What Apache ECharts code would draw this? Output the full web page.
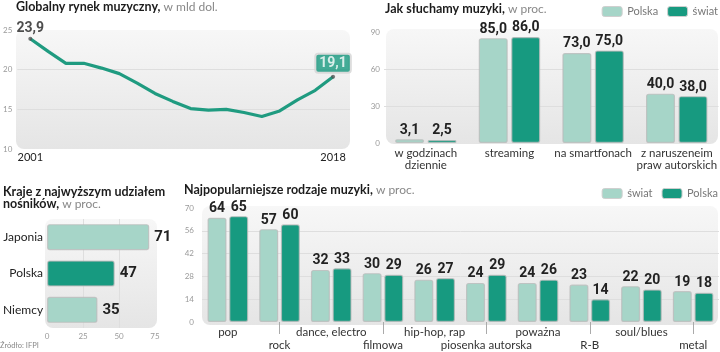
<!DOCTYPE html>
<html>
<head>
<meta charset="utf-8">
<script src="https://cdn.jsdelivr.net/npm/echarts@6/dist/echarts.min.js"></script>
<style>
  html, body { margin: 0; padding: 0; background: #fff; }
  #chart { width: 720px; height: 352px; }
</style>
</head>
<body>
<div id="chart"></div>
<script>
// --- data ---
const years = [2001, 2002, 2003, 2004, 2005, 2006, 2007, 2008, 2009, 2010, 2011, 2012, 2013, 2014, 2015, 2016, 2017, 2018];
const marketValues = [23.9, 22.3, 20.8, 20.8, 20.2, 19.5, 18.3, 17.0, 16.0, 15.1, 14.9, 15.0, 14.6, 14.1, 14.8, 16.2, 17.4, 19.1];
const yearTicks = [2001, 2018];

const listenCategories = ['w godzinach\ndziennie', 'streaming', 'na smartfonach', 'z naruszeneim\npraw autorskich'];
const listenPolska = [3.1, 85.0, 73.0, 40.0];
const listenSwiat = [2.5, 86.0, 75.0, 38.0];

const mediaCountries = ['Japonia', 'Polska', 'Niemcy'];
const mediaShare = [71, 47, 35];

const genres = ['pop', 'rock', 'dance, electro', 'filmowa', 'hip-hop, rap', 'piosenka autorska', 'poważna', 'R-B', 'soul/blues', 'metal'];
const genresSwiat = [64, 57, 32, 30, 26, 24, 24, 23, 22, 19];
const genresPolska = [65, 60, 33, 29, 27, 29, 26, 14, 20, 18];

// --- styles ---
const LIGHT = '#a6d5c8';
const DARK = '#179a80';
const FONT = 'Lato, "Noto Sans", sans-serif';
const NUMFONT = 'Roboto, "Liberation Sans", sans-serif';

const bgFill = {
  type: 'linear', x: 0, y: 0, x2: 0, y2: 1,
  colorStops: [{ offset: 0, color: '#f7f7f7' }, { offset: 1, color: '#e5e5e5' }]
};
function panelBg(x, y, w, h) {
  return { type: 'rect', z: -100, silent: true, shape: { x: x, y: y, width: w, height: h, r: 8 }, style: { fill: bgFill } };
}

const comma1 = v => v.toFixed(1).replace('.', ',');
const grayTick = { color: '#9a9a9a', fontSize: 8, fontFamily: FONT };
const split = { show: true, showMinLine: false, showMaxLine: false, lineStyle: { color: '#dedede', width: 1 } };
const barItem = c => ({ color: c, borderColor: 'rgba(185,185,185,0.75)', borderWidth: 1.2, borderRadius: 2 });
const barLabel = (fmt) => ({
  show: true, position: 'top', distance: 2, formatter: fmt,
  color: '#222', fontFamily: NUMFONT, fontWeight: 'bold', fontSize: 14
});
const titleRich = {
  b: { fontFamily: FONT, fontWeight: 'bold', fontSize: 12.5, color: '#1c1c1c', lineHeight: 12 },
  l: { fontFamily: FONT, fontWeight: 'normal', fontSize: 12, color: '#888', lineHeight: 12 }
};
function legendCfg(top, names, colors) {
  return {
    right: 2, top: top, padding: 0, icon: 'roundRect', itemWidth: 20, itemHeight: 10, itemGap: 9,
    selectedMode: false,
    data: names.map((n, i) => ({ name: n, itemStyle: { color: colors[i], borderColor: '#cfcfcf', borderWidth: 1 } })),
    textStyle: { color: '#777', fontSize: 11, fontFamily: FONT }
  };
}

const chart = echarts.init(document.getElementById('chart'), null, { renderer: 'canvas' });

chart.setOption({
  animation: false,
  backgroundColor: '#fff',
  graphic: [
    panelBg(16, 30, 334, 119),
    panelBg(386, 29, 332, 115),
    panelBg(45, 219, 112, 109),
    panelBg(202, 206, 516, 119)
  ],
  title: [
    { left: 16, top: 1, padding: 0, text: '{b|Globalny rynek muzyczny,}{l| w mld dol.}', textStyle: { rich: titleRich } },
    { left: 385, top: 3, padding: 0, text: '{b|Jak słuchamy muzyki,}{l| w proc.}', textStyle: { rich: titleRich } },
    { left: 3, top: 186, padding: 0, text: '{b|Kraje z najwyższym udziałem}\n{b|nośników,}{l| w proc.}', textStyle: { rich: titleRich } },
    { left: 184, top: 184, padding: 0, text: '{b|Najpopularniejsze rodzaje muzyki,}{l| w proc.}', textStyle: { rich: titleRich } },
    { left: 0, bottom: 2, padding: 0, text: 'Źródło: IFPI', textStyle: { fontSize: 7.5, color: '#888', fontWeight: 'normal', fontFamily: FONT } }
  ],
  legend: [
    legendCfg(6, ['Polska', 'świat'], [LIGHT, DARK]),
    legendCfg(188, ['świat', 'Polska'], [LIGHT, DARK])
  ],
  grid: [
    { left: 16, right: 370, top: 30, bottom: 203 },
    { left: 384, right: 1, top: 32, bottom: 209 },
    { left: 47, right: 565, top: 219, bottom: 24 },
    { left: 202, right: 1, top: 208, bottom: 28 }
  ],
  xAxis: [
    {
      gridIndex: 0, type: 'value', min: 2000.27, max: 2018.95,
      axisLine: { show: false }, axisTick: { show: false }, splitLine: { show: false },
      axisLabel: { customValues: yearTicks, margin: 3, fontSize: 11, color: '#222', fontFamily: FONT, formatter: v => String(v) }
    },
    {
      gridIndex: 1, type: 'category', data: listenCategories,
      axisLine: { show: false }, axisTick: { show: false },
      axisLabel: { interval: 0, margin: 4, fontSize: 11.5, lineHeight: 12, color: '#333', fontFamily: FONT }
    },
    {
      gridIndex: 2, type: 'value', min: 0, max: 75, interval: 25,
      axisLine: { show: false }, axisTick: { show: false },
      splitLine: split,
      axisLabel: Object.assign({ margin: 4 }, grayTick)
    },
    {
      gridIndex: 3, type: 'category', data: genres,
      axisLine: { show: false },
      axisTick: { show: true, alignWithLabel: true, interval: i => i % 2 === 1, length: 12, lineStyle: { color: '#aaa', width: 1 } },
      axisLabel: {
        interval: 0, margin: 4, fontSize: 11.5, lineHeight: 13, color: '#333', fontFamily: FONT,
        formatter: (v, i) => (i % 2 === 1 ? '\n' + v : v)
      }
    }
  ],
  yAxis: [
    {
      gridIndex: 0, type: 'value', min: 10, max: 25, interval: 5,
      axisLine: { show: false }, axisTick: { show: false }, splitLine: split,
      axisLabel: Object.assign({ margin: 5 }, grayTick)
    },
    {
      gridIndex: 1, type: 'value', min: 0, max: 90, interval: 30,
      axisLine: { show: false }, axisTick: { show: false }, splitLine: split,
      axisLabel: Object.assign({ margin: 4 }, grayTick)
    },
    {
      gridIndex: 2, type: 'category', data: mediaCountries, inverse: true,
      axisLine: { show: false }, axisTick: { show: false },
      axisLabel: { margin: 4, fontSize: 12, color: '#222', fontFamily: FONT }
    },
    {
      gridIndex: 3, type: 'value', min: 0, max: 70, interval: 14,
      axisLine: { show: false }, axisTick: { show: false }, splitLine: split,
      axisLabel: Object.assign({ margin: 8 }, grayTick)
    }
  ],
  series: [
    {
      type: 'line', xAxisIndex: 0, yAxisIndex: 0, showSymbol: false, smooth: false,
      data: years.map((y, i) => [y, marketValues[i]]),
      lineStyle: { color: '#1f9b80', width: 3.2 }
    },
    {
      type: 'scatter', xAxisIndex: 0, yAxisIndex: 0, symbolSize: 4, z: 5,
      itemStyle: { color: '#555' },
      data: [
        {
          value: [years[0], marketValues[0]],
          label: { show: true, position: 'top', distance: 1, formatter: p => comma1(p.value[1]),
            color: '#222', fontFamily: NUMFONT, fontWeight: 'bold', fontSize: 14 }
        },
        {
          value: [years[years.length - 1], marketValues[marketValues.length - 1]],
          label: { show: true, position: 'top', distance: 3, formatter: p => comma1(p.value[1]),
            color: '#fff', fontFamily: NUMFONT, fontWeight: 'bold', fontSize: 14,
            backgroundColor: DARK, borderColor: '#d4d4d4', borderWidth: 2, borderRadius: 2, padding: [2, 3, 1, 3] }
        }
      ]
    },
    {
      name: 'Polska', type: 'bar', xAxisIndex: 1, yAxisIndex: 1, data: listenPolska,
      barWidth: 29, barGap: '12%', itemStyle: barItem(LIGHT), label: barLabel(p => comma1(p.value))
    },
    {
      name: 'świat', type: 'bar', xAxisIndex: 1, yAxisIndex: 1, data: listenSwiat,
      barWidth: 29, barGap: '12%', itemStyle: barItem(DARK), label: barLabel(p => comma1(p.value))
    },
    {
      type: 'bar', xAxisIndex: 2, yAxisIndex: 2, barWidth: 26,
      data: mediaShare.map((v, i) => ({ value: v, itemStyle: { color: mediaCountries[i] === 'Polska' ? DARK : LIGHT } })),
      itemStyle: barItem(LIGHT),
      label: Object.assign(barLabel(p => p.value), { position: 'right', distance: 5, fontSize: 15 })
    },
    {
      name: 'świat', type: 'bar', xAxisIndex: 3, yAxisIndex: 3, data: genresSwiat,
      barWidth: 19, barGap: '14%', itemStyle: barItem(LIGHT), label: barLabel(p => p.value)
    },
    {
      name: 'Polska', type: 'bar', xAxisIndex: 3, yAxisIndex: 3, data: genresPolska,
      barWidth: 19, barGap: '14%', itemStyle: barItem(DARK), label: barLabel(p => p.value)
    }
  ]
});
</script>
</body>
</html>
